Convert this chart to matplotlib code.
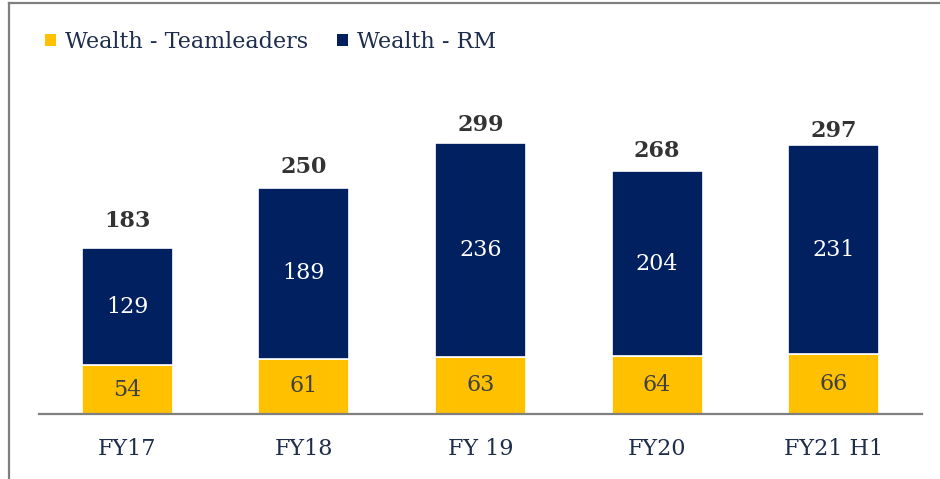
import matplotlib
matplotlib.use("Agg")
import matplotlib.pyplot as plt
from matplotlib.lines import Line2D
from matplotlib.patches import Patch
import numpy as np

categories = ["FY17", "FY18", "FY 19", "FY20", "FY21 H1"]
teamleaders = [54, 61, 63, 64, 66]
rm = [129, 189, 236, 204, 231]
totals = [183, 250, 299, 268, 297]

# vertical gap (pixels) between each total label and its bar top
label_gaps = [21, 15, 12, 14, 8]

YELLOW = "#FFC000"
NAVY = "#002060"
TXT = "#1E2D4B"
FONT = "DejaVu Serif"
FS = 16

plt.rcParams["font.family"] = [FONT]

fig = plt.figure(figsize=(9.4, 4.79), dpi=100)
ax_bottom = (479 - 414) / 479
ax_top = (479 - 80) / 479
ax = fig.add_axes([39 / 940, ax_bottom, (922 - 39) / 940, ax_top - ax_bottom])

x = np.arange(len(categories))
w = 0.515
ax.bar(x, teamleaders, w, color=YELLOW, edgecolor="white", linewidth=1.2)
ax.bar(x, rm, w, bottom=teamleaders, color=NAVY, edgecolor="white", linewidth=1.2)

for i in range(len(categories)):
    ax.text(x[i], teamleaders[i] / 2, str(teamleaders[i]), ha="center", va="center",
            color="#404040", fontsize=FS)
    ax.text(x[i], teamleaders[i] + rm[i] / 2, str(rm[i]), ha="center", va="center",
            color="white", fontsize=FS)
    ax.annotate(str(totals[i]), (x[i], totals[i]), xytext=(0, label_gaps[i]),
                textcoords="offset pixels", ha="center", va="baseline",
                color="#333333", fontsize=FS, fontweight="bold")

ax.set_xlim(-0.5, 4.5)
ax.set_ylim(0, (414 - 80) / 0.905)
ax.set_xticks(x)
ax.set_xticklabels(categories, fontsize=FS, color=TXT)
ax.tick_params(axis="x", length=0, pad=17)
ax.set_yticks([])
for s in ["top", "right", "left"]:
    ax.spines[s].set_visible(False)
ax.spines["bottom"].set_color("#7F7F7F")
ax.spines["bottom"].set_linewidth(1.6)

handles = [Patch(facecolor=YELLOW, edgecolor="none"), Patch(facecolor=NAVY, edgecolor="none")]
fig.legend(handles, ["Wealth - Teamleaders", "Wealth - RM"], loc="center left",
           bbox_to_anchor=(25 / 940, 1 - 42 / 479), ncol=2, frameon=False,
           fontsize=FS, labelcolor=TXT, handlelength=0.5, handleheight=0.5,
           handletextpad=0.4, columnspacing=1.3, borderpad=0.4)

# outer frame (left and top)
fig.add_artist(Line2D([8.5 / 940, 8.5 / 940], [0, 1 - 2.5 / 479], transform=fig.transFigure,
                      color="#7F7F7F", linewidth=1.6))
fig.add_artist(Line2D([8.5 / 940, 1], [1 - 2.5 / 479, 1 - 2.5 / 479], transform=fig.transFigure,
                      color="#7F7F7F", linewidth=1.6))

fig.savefig("out.png", dpi=100)
